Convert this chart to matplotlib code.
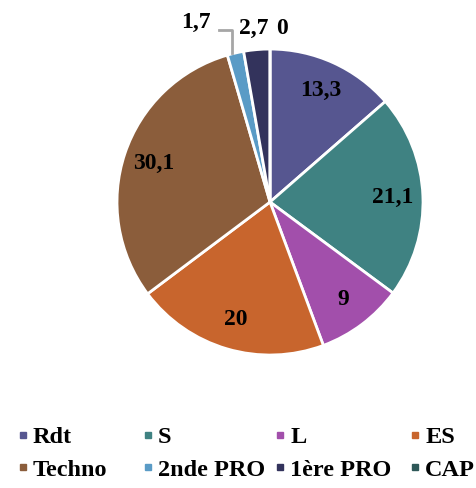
import matplotlib.pyplot as plt
import numpy as np
from matplotlib.lines import Line2D

categories = ['Rdt', 'S', 'L', 'ES', 'Techno', '2nde PRO', '1ère PRO', 'CAP']
values = [13.3, 21.1, 9, 20, 30.1, 1.7, 2.7, 0]
labels = ['13,3', '21,1', '9', '20', '30,1', '1,7', '2,7', '0']
colors = ['#565690', '#3f8282', '#a24fab', '#c8652d',
          '#8b5d3b', '#5a9bc6', '#33335c', '#2e5858']

plt.rcParams['font.family'] = ['Liberation Serif', 'DejaVu Serif']
plt.rcParams['font.weight'] = 'bold'

fig = plt.figure(figsize=(4.77, 4.88), dpi=100)
ax = fig.add_axes([0.2453, 0.2725, 0.6415, 0.627])

wedges, _ = ax.pie(values, colors=colors, startangle=90, counterclock=False,
                   radius=1, wedgeprops=dict(edgecolor='white', linewidth=2))
ax.set_xlim(-1, 1)
ax.set_ylim(-1, 1)
ax.set_aspect('auto')
ax.axis('off')

total = sum(values)
cum = np.cumsum([0] + values[:-1])
mids = 90 - (cum + np.array(values) / 2) / total * 360

fs = 17
for i, (lab, ang) in enumerate(zip(labels, mids)):
    t = np.deg2rad(ang)
    if values[i] > 5:
        ax.text(0.80 * np.cos(t), 0.80 * np.sin(t), lab, ha='center',
                va='center', fontsize=fs, fontweight='bold')

# small slices: labels above the pie
t5 = np.deg2rad(mids[5])
x5 = np.cos(t5) - 0.02
ax.plot([x5, x5, x5 - 0.09], [np.sin(t5), 1.124, 1.124],
        color='#a6a6a6', lw=2, clip_on=False)
ax.text(x5 - 0.24, 1.176, labels[5], ha='center', va='center',
        fontsize=fs, fontweight='bold')
t6 = np.deg2rad(mids[6])
ax.text(np.cos(t6) - 0.02, 1.137, labels[6], ha='center', va='center',
        fontsize=fs, fontweight='bold')
t7 = np.deg2rad(mids[7])
ax.text(np.cos(t7) + 0.08, 1.137, labels[7], ha='center', va='center',
        fontsize=fs, fontweight='bold')

# legend: one legend per column so columns line up like the original
col_x = [0.0377, 0.300, 0.577, 0.860]
for c in range(4):
    idx = [c, c + 4]
    handles = [Line2D([], [], marker='s', color='none', markerfacecolor=colors[i],
                      markeredgecolor=colors[i], markersize=5) for i in idx]
    fig.legend(handles, [categories[i] for i in idx], loc='upper left',
               bbox_to_anchor=(col_x[c], 0.127), frameon=False, borderpad=0,
               borderaxespad=0, handlelength=0.4, handletextpad=0.21,
               labelspacing=0.45, prop=dict(size=17.5, weight='bold'))

fig.savefig('out.png', dpi=100)
